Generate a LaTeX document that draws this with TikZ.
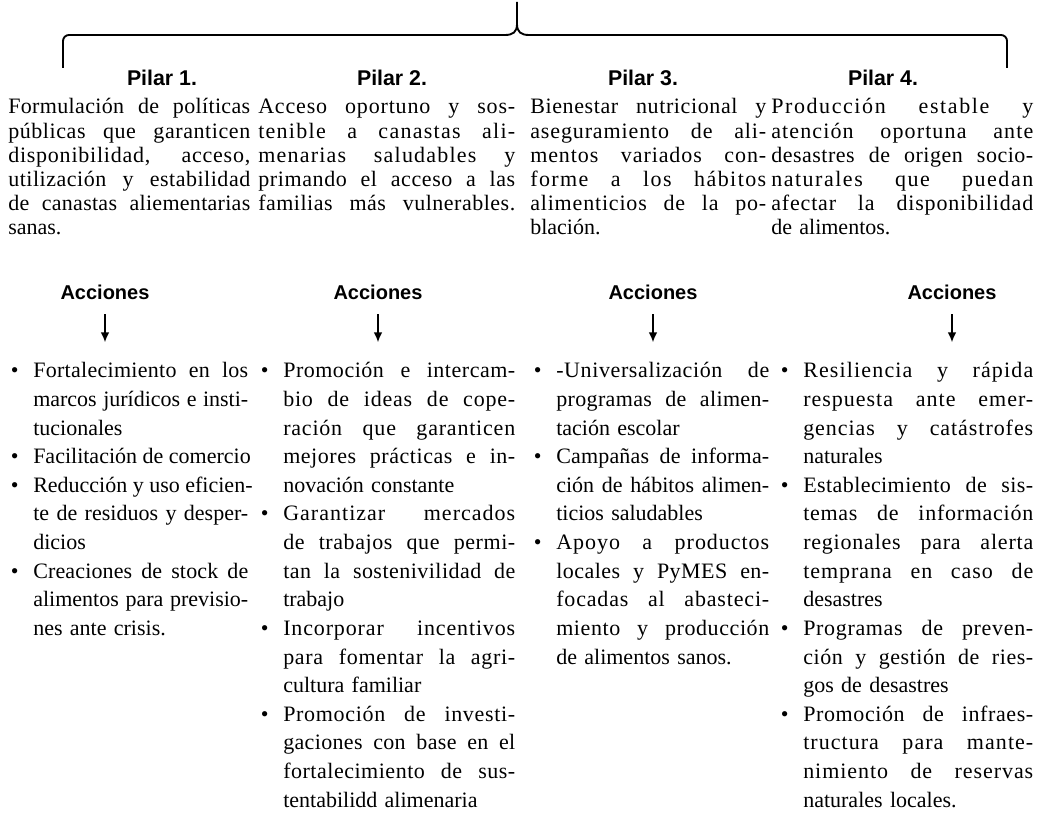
\documentclass[tikz,border=0pt]{standalone}
\usepackage{fontspec}
\setmainfont{Liberation Serif}
\setsansfont{Liberation Sans}
\usetikzlibrary{arrows.meta}
\usetikzlibrary{positioning}

% linea justificada: reparte el hueco entre letras y espacios
\makeatletter
\newcommand{\ajus}[1]{\leavevmode\hbox to\hsize{%
  \setbox0\hbox{#1}%
  \dimen0=\dimexpr\hsize-\wd0\relax
  \ifdim\dimen0>0pt
    \dimen2=\dimexpr 18\dimen0*65536/\wd0\relax
    \edef\ajus@f{\noexpand\addfontfeature{LetterSpace=\strip@pt\dimen2}}\ajus@f
  \fi
  \spaceskip=\fontdimen2\font plus 1fil\relax #1}}
\makeatother
\newcommand{\vin}{\leavevmode\llap{\textbullet\hspace{11pt}}}

\begin{document}
\begin{tikzpicture}[x=0.75pt, y=-0.75pt,
  pilar/.style={font=\sffamily\bfseries\fontsize{16}{19}\selectfont, inner sep=2pt},
  acciones/.style={font=\sffamily\bfseries\fontsize{15}{18}\selectfont, inner sep=2pt},
  parrafo/.style={anchor=base west, inner sep=0pt, align=left, font=\fontsize{16.5}{18.15}\selectfont},
  lista/.style={anchor=base west, inner sep=0pt, align=left, font=\fontsize{16.5}{21.45}\selectfont},
  flecha/.style={-{Latex[length=7.5pt,width=6.5pt]}, line width=1.1pt, shorten <=9pt},
  llave/.style={line width=1.4pt}]
  \useasboundingbox (0,0) rectangle (1038,816);

  % llave superior
  \draw[llave] (63,68) -- (63,41) to[out=90,in=180] (69,35) -- (505,35)
    .. controls (513,35) and (517,32) .. (517,24) -- (517,2);
  \draw[llave] (1007,68) -- (1007,41) to[out=90,in=0] (1001,35) -- (529,35)
    .. controls (521,35) and (517,32) .. (517,24);

  \node[pilar] (p1) at (162,78) {Pilar 1.};
  \node[pilar] (p2) at (392,78) {Pilar 2.};
  \node[pilar] (p3) at (643,78) {Pilar 3.};
  \node[pilar] (p4) at (883,78) {Pilar 4.};

  \node[parrafo, text width=181.5pt] (t1) at (8,114) {%
    \ajus{Formulación de políticas}\\
    \ajus{públicas que garanticen}\\
    \ajus{disponibilidad, acceso,}\\
    \ajus{utilización y estabilidad}\\
    \ajus{de canastas aliementarias}\\
    sanas.};
  \node[parrafo, text width=192.75pt] (t2) at (258,114) {%
    \ajus{Acceso oportuno y sos-}\\
    \ajus{tenible a canastas ali-}\\
    \ajus{menarias saludables y}\\
    \ajus{primando el acceso a las}\\
    \ajus{familias más vulnerables.}};
  \node[parrafo, text width=177pt] (t3) at (530,114) {%
    \ajus{Bienestar nutricional y}\\
    \ajus{aseguramiento de ali-}\\
    \ajus{mentos variados con-}\\
    \ajus{forme a los hábitos}\\
    \ajus{alimenticios de la po-}\\
    blación.};
  \node[parrafo, text width=196.5pt] (t4) at (771,114) {%
    \ajus{Producción estable y}\\
    \ajus{atención oportuna ante}\\
    \ajus{desastres de origen socio-}\\
    \ajus{naturales que puedan}\\
    \ajus{afectar la disponibilidad}\\
    de alimentos.};

  \node[acciones] (a1) at (105,292) {Acciones};
  \node[acciones] (a2) at (378,292) {Acciones};
  \node[acciones] (a3) at (653,292) {Acciones};
  \node[acciones] (a4) at (952,292) {Acciones};
  \coordinate[below=30pt of a1] (f1);
  \coordinate[below=30pt of a2] (f2);
  \coordinate[below=30pt of a3] (f3);
  \coordinate[below=30pt of a4] (f4);
  \draw[flecha] (a1) -- (f1);
  \draw[flecha] (a2) -- (f2);
  \draw[flecha] (a3) -- (f3);
  \draw[flecha] (a4) -- (f4);

  \node[lista, text width=161.25pt] (l1) at (33,378) {%
    \vin\ajus{Fortalecimiento en los}\\
    \ajus{marcos jurídicos e insti-}\\
    tucionales\\
    \vin\ajus{Facilitación de comercio}\\
    \vin\ajus{Reducción y uso eficien-}\\
    \ajus{te de residuos y desper-}\\
    dicios\\
    \vin\ajus{Creaciones de stock de}\\
    \ajus{alimentos para previsio-}\\
    nes ante crisis.};
  \node[lista, text width=174pt] (l2) at (283,378) {%
    \vin\ajus{Promoción e intercam-}\\
    \ajus{bio de ideas de cope-}\\
    \ajus{ración que garanticen}\\
    \ajus{mejores prácticas e in-}\\
    novación constante\\
    \vin\ajus{Garantizar mercados}\\
    \ajus{de trabajos que permi-}\\
    \ajus{tan la sostenivilidad de}\\
    trabajo\\
    \vin\ajus{Incorporar incentivos}\\
    \ajus{para fomentar la agri-}\\
    cultura familiar\\
    \vin\ajus{Promoción de investi-}\\
    \ajus{gaciones con base en el}\\
    \ajus{fortalecimiento de sus-}\\
    tentabilidd alimenaria};
  \node[lista, text width=159.75pt] (l3) at (556,378) {%
    \vin\ajus{-Universalización de}\\
    \ajus{programas de alimen-}\\
    tación escolar\\
    \vin\ajus{Campañas de informa-}\\
    \ajus{ción de hábitos alimen-}\\
    ticios saludables\\
    \vin\ajus{Apoyo a productos}\\
    \ajus{locales y PyMES en-}\\
    \ajus{focadas al abasteci-}\\
    \ajus{miento y producción}\\
    de alimentos sanos.};
  \node[lista, text width=172.5pt] (l4) at (803,378) {%
    \vin\ajus{Resiliencia y rápida}\\
    \ajus{respuesta ante emer-}\\
    \ajus{gencias y catástrofes}\\
    naturales\\
    \vin\ajus{Establecimiento de sis-}\\
    \ajus{temas de información}\\
    \ajus{regionales para alerta}\\
    \ajus{temprana en caso de}\\
    desastres\\
    \vin\ajus{Programas de preven-}\\
    \ajus{ción y gestión de ries-}\\
    gos de desastres\\
    \vin\ajus{Promoción de infraes-}\\
    \ajus{tructura para mante-}\\
    \ajus{nimiento de reservas}\\
    naturales locales.};

\end{tikzpicture}
\end{document}
